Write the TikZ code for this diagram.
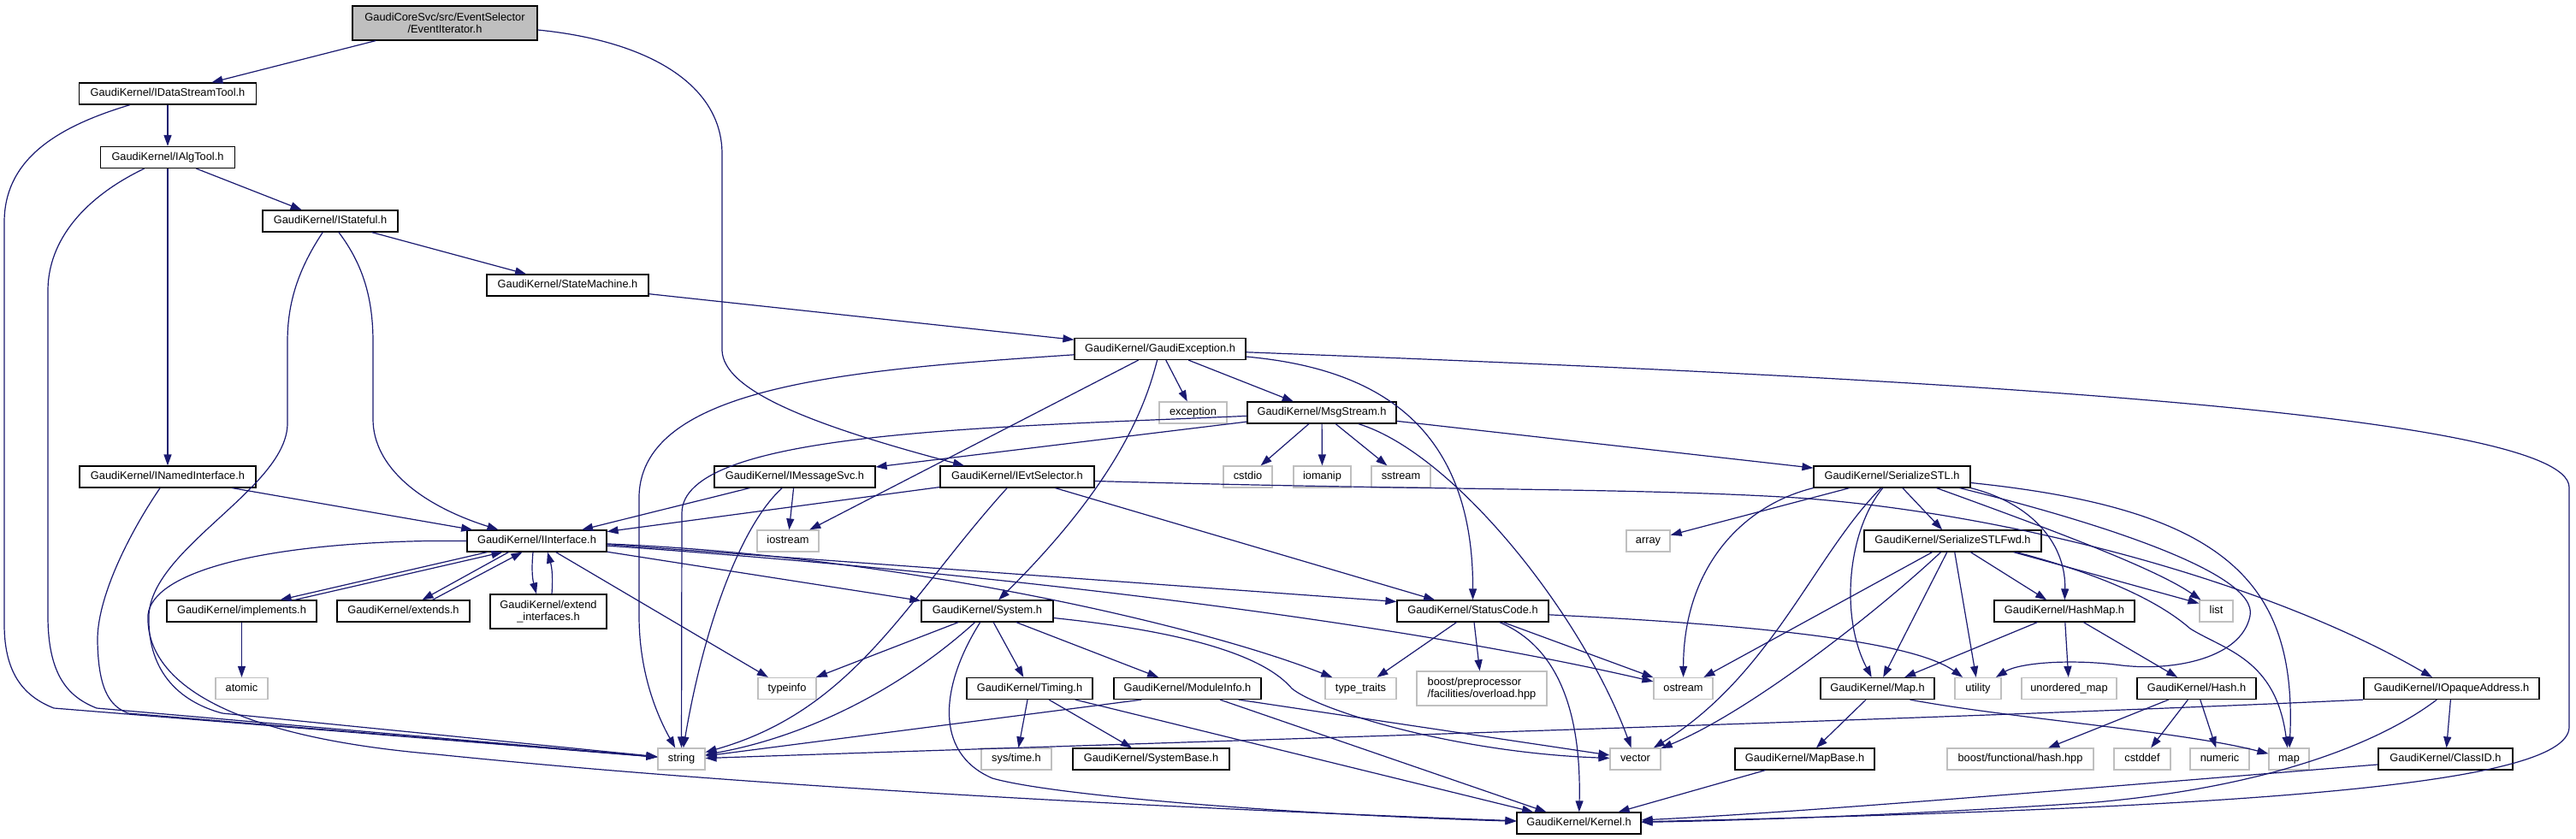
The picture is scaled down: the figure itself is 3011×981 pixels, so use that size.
\documentclass[tikz,border=0pt]{standalone}
\usepackage{fontspec}
\setmainfont{Liberation Sans}
\usetikzlibrary{arrows.meta,calc}
\definecolor{edgeblue}{HTML}{191970}
\definecolor{greyb}{HTML}{BFBFBF}
\begin{document}
\begin{tikzpicture}[x=1pt,y=-1pt,
  font=\fontsize{12.8}{15}\selectfont,
  box/.style={rectangle, inner sep=0pt, line width=1.2pt, fill=white, minimum height=25pt},
  gk/.style={box, draw=black, text height=9.3pt, text depth=2.7pt},
  sx/.style={box, draw=greyb, text height=9.3pt, text depth=2.7pt},
  gktwo/.style={box, draw=black, minimum height=40pt, align=center, font=\fontsize{12.8}{13.5}\selectfont},
  sxtwo/.style={box, draw=greyb, minimum height=40pt, align=left, font=\fontsize{12.8}{13.5}\selectfont},
  e/.style={draw=edgeblue, line width=1.2pt, -{Triangle[length=13pt,width=9pt]}},
]
\useasboundingbox[fill=white] (0,0) rectangle (3011,981);

\node[gktwo, fill=greyb, minimum width=216pt] (root) at (520,27) {GaudiCoreSvc/src/EventSelector\\/EventIterator.h};
\node[gk, minimum width=207pt] (ids) at (196,109.5) {GaudiKernel/IDataStreamTool.h};
\node[gk, minimum width=157pt] (ialg) at (196,184) {GaudiKernel/IAlgTool.h};
\node[gk, minimum width=158pt] (istate) at (386,258.5) {GaudiKernel/IStateful.h};
\node[gk, minimum width=189pt] (sm) at (663.5,333.5) {GaudiKernel/StateMachine.h};
\node[gk, minimum width=200pt] (gex) at (1356,408) {GaudiKernel/GaudiException.h};
\node[sx, minimum width=79pt] (exc) at (1394.5,482.5) {exception};
\node[gk, minimum width=174pt] (msg) at (1545,482.5) {GaudiKernel/MsgStream.h};
\node[gk, minimum width=206pt] (inamed) at (196,557.5) {GaudiKernel/INamedInterface.h};
\node[gk, minimum width=188pt] (imsg) at (929,557.5) {GaudiKernel/IMessageSvc.h};
\node[gk, minimum width=180pt] (ievt) at (1189,557.5) {GaudiKernel/IEvtSelector.h};
\node[sx, minimum width=57pt] (cstdio) at (1458.5,557.5) {cstdio};
\node[sx, minimum width=67pt] (iomanip) at (1545.5,557.5) {iomanip};
\node[sx, minimum width=69pt] (sstream) at (1637.5,557.5) {sstream};
\node[gk, minimum width=183pt] (sstl) at (2211.5,557.5) {GaudiKernel/SerializeSTL.h};
\node[gk, minimum width=163pt] (iint) at (627.5,632.5) {GaudiKernel/IInterface.h};
\node[sx, minimum width=72pt] (iostream) at (921,632.5) {iostream};
\node[sx, minimum width=51pt] (array) at (1926.5,632.5) {array};
\node[gk, minimum width=207pt] (sfwd) at (2282.5,632.5) {GaudiKernel/SerializeSTLFwd.h};
\node[gk, minimum width=175pt] (impl) at (282.5,714.5) {GaudiKernel/implements.h};
\node[gk, minimum width=155pt] (ext) at (471.5,714.5) {GaudiKernel/extends.h};
\node[gktwo, minimum width=136pt] (extif) at (641,715) {GaudiKernel/extend\\\_interfaces.h};
\node[gk, minimum width=154pt] (sys) at (1154,714.5) {GaudiKernel/System.h};
\node[gk, minimum width=177pt] (sc) at (1721.5,714.5) {GaudiKernel/StatusCode.h};
\node[sx, minimum width=39pt] (list) at (2590.5,714.5) {list};
\node[gk, minimum width=164pt] (hmap) at (2413,714.5) {GaudiKernel/HashMap.h};
\node[sx, minimum width=61pt] (atomic) at (282.5,805) {atomic};
\node[sx, minimum width=68pt] (typeinfo) at (920,805) {typeinfo};
\node[gk, minimum width=147pt] (timing) at (1203.5,805) {GaudiKernel/Timing.h};
\node[gk, minimum width=172pt] (minfo) at (1388,805) {GaudiKernel/ModuleInfo.h};
\node[sx, minimum width=83pt] (ttraits) at (1590.5,805) {type\_traits};
\node[sxtwo, minimum width=152pt] (bpp) at (1732,805) {boost/preprocessor\\/facilities/overload.hpp};
\node[sx, minimum width=69pt] (ostream) at (1967.5,805) {ostream};
\node[gk, minimum width=133pt] (gmap) at (2194.5,805) {GaudiKernel/Map.h};
\node[sx, minimum width=54pt] (utility) at (2312,805) {utility};
\node[sx, minimum width=111pt] (umap) at (2418.5,805) {unordered\_map};
\node[gk, minimum width=139pt] (hash) at (2567.5,805) {GaudiKernel/Hash.h};
\node[gk, minimum width=205pt] (iopq) at (2865.5,805) {GaudiKernel/IOpaqueAddress.h};
\node[sx, minimum width=55pt] (string) at (796.5,887.5) {string};
\node[sx, minimum width=82pt] (systime) at (1188,887.5) {sys/time.h};
\node[gk, minimum width=183pt] (sbase) at (1345.5,887.5) {GaudiKernel/SystemBase.h};
\node[sx, minimum width=59pt] (vector) at (1911.5,887.5) {vector};
\node[gk, minimum width=163pt] (mapbase) at (2109.5,887.5) {GaudiKernel/MapBase.h};
\node[sx, minimum width=171pt] (bfh) at (2361.5,887.5) {boost/functional/hash.hpp};
\node[sx, minimum width=66pt] (cstddef) at (2504,887.5) {cstddef};
\node[sx, minimum width=69pt] (numeric) at (2594.5,887.5) {numeric};
\node[sx, minimum width=47pt] (stdmap) at (2675.5,887.5) {map};
\node[gk, minimum width=157pt] (classid) at (2858.5,887.5) {GaudiKernel/ClassID.h};
\node[gk, minimum width=145pt] (kernel) at (1845.5,962.5) {GaudiKernel/Kernel.h};

% root
\draw[e] (root) -- (ids);
\draw[e] ($(root.east)+(0,8)$) .. controls (760,48) and (844,100) .. (844,180) -- (844,410) .. controls (846,455) and (940,495) .. ($(ievt.north)+(-62,0)$);
% IDataStreamTool
\draw[e] (ids) -- (ialg);
\draw[e] (ids) .. controls (60,150) and (5,190) .. (5,260) -- (5,730) .. controls (5,790) and (30,815) .. (63,828) -- (string);
% IAlgTool
\draw[e] (ialg) .. controls (100,230) and (56,280) .. (56,340) -- (56,720) .. controls (56,790) and (80,815) .. (113,828) -- (string);
\draw[e] (ialg) -- (istate);
\draw[e] (ialg) -- (inamed);
% IStateful
\draw[e] (istate) -- (sm);
\draw[e] (istate) .. controls (425,310) and (436,350) .. (436,400) -- (436,490) .. controls (436,545) and (490,590) .. ($(iint.north)+(-45,0)$);
\draw[e] (istate) .. controls (345,320) and (336,360) .. (336,400) -- (336,495) .. controls (336,570) and (178,640) .. (174,719) .. controls (172,790) and (215,822) .. (260,834) -- (string);
% INamedInterface
\draw[e] (inamed) -- (iint);
\draw[e] (inamed) .. controls (150,625) and (113,700) .. (114,750) .. controls (115,800) and (125,825) .. (150,834) -- (string);
% IInterface
\draw[e] (iint.west) -- (500,632.5) .. controls (300,636) and (178,670) .. (173,719) .. controls (170,790) and (250,860) .. (510,882) .. controls (900,922) and (1400,946) .. (kernel);
\draw[e] ($(iint.south)+(-58,0)$) -- ($(impl.north)+(45,0)$);
\draw[e] ($(impl.north)+(62,0)$) -- ($(iint.south)+(-40,0)$);
\draw[e] ($(iint.south)+(-33,0)$) -- ($(ext.north)+(22,0)$);
\draw[e] ($(ext.north)+(34,0)$) -- ($(iint.south)+(-17,0)$);
\draw[e] ($(iint.south)+(-4.5,0)$) to[bend right=10] ($(extif.north)+(-14,0)$);
\draw[e] ($(extif.north)+(4,0)$) to[bend right=10] ($(iint.south)+(12.5,0)$);
\draw[e] (iint) -- (typeinfo);
\draw[e] (iint) -- (sys);
\draw[e] ($(iint.east)+(0,4)$) -- ($(sc.west)+(0,-11)$);
\draw[e] (iint) .. controls (1100,665) and (1600,720) .. (ostream);
\draw[e] (iint) .. controls (1050,650) and (1400,730) .. (ttraits);
\draw[e] (impl) -- (atomic);
% StateMachine, GaudiException
\draw[e] (sm) -- (gex);
\draw[e] (gex) -- (msg);
\draw[e] (gex) -- (exc);
\draw[e] (gex) .. controls (1340,470) and (1310,560) .. (sys);
\draw[e] (gex) -- (iostream);
\draw[e] (gex) .. controls (1000,432) and (750,450) .. (747,580) -- (747,720) .. controls (747,790) and (770,840) .. (string);
\draw[e] (gex) .. controls (1600,430) and (1722,490) .. (sc);
\draw[e] (gex) .. controls (2200,440) and (3003,480) .. (3003,570) -- (3003,850) .. controls (3003,920) and (2600,945) .. (kernel);
% MsgStream
\draw[e] (msg) -- (imsg);
\draw[e] (msg) .. controls (1150,500) and (797,505) .. (797,600) -- (string);
\draw[e] (msg) -- (cstdio);
\draw[e] (msg) -- (iomanip);
\draw[e] (msg) -- (sstream);
\draw[e] (msg) .. controls (1700,530) and (1850,720) .. (vector);
\draw[e] (msg) -- (sstl);
% IMessageSvc
\draw[e] (imsg) -- (iint);
\draw[e] (imsg) -- (iostream);
\draw[e] (imsg) .. controls (870,610) and (825,720) .. (string);
% IEvtSelector
\draw[e] (ievt) -- (iint);
\draw[e] (ievt) -- (sc);
\draw[e] (ievt) .. controls (1060,700) and (1000,830) .. (string);
\draw[e] ($(ievt.east)+(0,5)$) .. controls (1700,574) and (1900,570) .. (2100,582) .. controls (2350,600) and (2650,680) .. (iopq);
% System
\draw[e] (sys) -- (typeinfo);
\draw[e] (sys) .. controls (1060,800) and (950,860) .. (string);
\draw[e] (sys) -- (timing);
\draw[e] (sys) -- (minfo);
\draw[e] (sys) .. controls (1400,740) and (1480,770) .. (1510,805) .. controls (1540,830) and (1700,880) .. (vector);
\draw[e] (sys) .. controls (1100,800) and (1090,880) .. (1160,910) .. controls (1230,930) and (1500,952) .. (kernel);
% Timing, ModuleInfo
\draw[e] (timing) -- (systime);
\draw[e] (timing) -- (sbase);
\draw[e] (timing) -- (kernel);
\draw[e] ($(minfo.south west)+(33,0)$) -- (string);
\draw[e] ($(minfo.south east)+(-27,0)$) -- (vector);
\draw[e] (minfo) -- (kernel);
% StatusCode
\draw[e] (sc) -- (ttraits);
\draw[e] (sc) -- (bpp);
\draw[e] (sc) -- (ostream);
\draw[e] (sc) .. controls (1830,760) and (1848,850) .. (kernel);
\draw[e] (sc) .. controls (2000,728) and (2230,745) .. (utility);
% SerializeSTL
\draw[e] (sstl) -- (sfwd);
\draw[e] (sstl) -- (array);
\draw[e] (sstl.south west) .. controls (2040,590) and (1968,660) .. (ostream);
\draw[e] (sstl) .. controls (2120,650) and (2070,790) .. (vector);
\draw[e] (sstl) .. controls (2160,620) and (2150,720) .. (gmap);
\draw[e] (sstl.south east) .. controls (2380,590) and (2415,640) .. (hmap);
\draw[e] ($(sstl.south)+(52,0)$) .. controls (2400,620) and (2520,665) .. ($(list.north west)+(2,0)$);
\draw[e] ($(sstl.east)+(0,7)$) .. controls (2600,595) and (2685,680) .. (stdmap);
\draw[e] ($(sstl.south east)+(-13,0)$) .. controls (2450,610) and (2640,670) .. (2630,720) .. controls (2620,770) and (2540,785) .. (2480,778) .. controls (2420,770) and (2360,775) .. (utility);
% SerializeSTLFwd
\draw[e] ($(sfwd.south east)+(-33,0)$) -- ($(list.west)+(0,-9)$);
\draw[e] ($(sfwd.south east)+(-30,0)$) .. controls (2450,670) and (2520,700) .. (2560,735) .. controls (2600,760) and (2660,770) .. (stdmap);
\draw[e] (sfwd) -- (hmap);
\draw[e] (sfwd) -- (utility);
\draw[e] (sfwd) -- (gmap);
\draw[e] (sfwd) .. controls (2200,710) and (2050,830) .. (vector);
\draw[e] (sfwd) -- (ostream);
% HashMap, Hash, Map
\draw[e] (hmap) -- (gmap);
\draw[e] (hmap) -- (umap);
\draw[e] (hmap) -- (hash);
\draw[e] (hash) -- (bfh);
\draw[e] (hash) -- (cstddef);
\draw[e] (hash) -- (numeric);
\draw[e] (gmap) -- (mapbase);
\draw[e] ($(gmap.south)+(38,0)$) .. controls (2350,840) and (2550,855) .. (stdmap);
\draw[e] (mapbase) -- (kernel);
% IOpaqueAddress, ClassID
\draw[e] (iopq) -- (classid);
\draw[e] (iopq) .. controls (2780,870) and (2650,920) .. (2450,938) .. controls (2200,955) and (2000,960) .. (kernel);
\draw[e] (iopq.south west) .. controls (2300,840) and (1300,870) .. (string);
\draw[e] (classid) .. controls (2400,925) and (2100,950) .. (kernel);
\end{tikzpicture}
\end{document}
